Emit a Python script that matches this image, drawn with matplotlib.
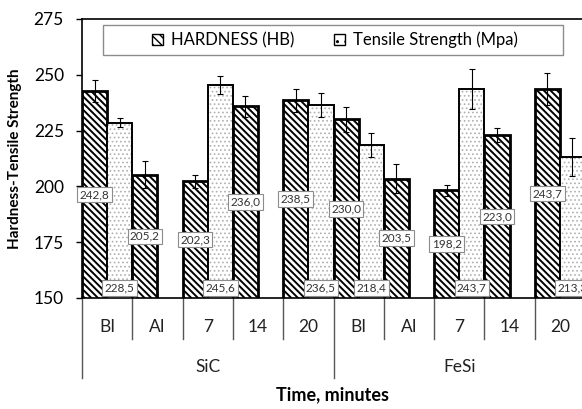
import numpy as np
import matplotlib.pyplot as plt
from matplotlib.patches import Patch, Rectangle

plt.rcParams['font.family'] = ['Lato', 'DejaVu Sans']

times = ["BI", "AI", "7", "14", "20", "BI", "AI", "7", "14", "20"]
groups = ["SiC", "FeSi"]

hardness = [242.8, 205.2, 202.3, 236.0, 238.5, 230.0, 203.5, 198.2, 223.0, 243.7]
hardness_err = [5.0, 6.0, 3.0, 4.7, 5.0, 5.5, 6.5, 2.5, 3.0, 7.3]
tensile = [228.5, np.nan, 245.6, np.nan, 236.5, 218.4, np.nan, 243.7, np.nan, 213.3]
tensile_err = [2.0, np.nan, 4.0, np.nan, 5.5, 5.4, np.nan, 9.0, np.nan, 8.5]

ymin = 150
fig = plt.figure(figsize=(5.82, 4.09), dpi=100)
ax = fig.add_axes([82 / 582, (409 - 298) / 409, 503 / 582, 279 / 409])

n = len(times)
idx = np.arange(n)
xh = idx + 0.25
xt = idx + 0.75

# hardness bars (dense diagonal hatch)
plt.rcParams['hatch.linewidth'] = 1.4
ax.bar(xh, hardness, width=0.5, color="white", edgecolor="black", hatch="\\\\\\\\\\",
       linewidth=2.0, zorder=2)
# tensile bars: light grey dots then black outline
plt.rcParams['hatch.linewidth'] = 0.7
ax.bar(xt, tensile, width=0.5, color="white", edgecolor="#b0b0b0", hatch="....",
       linewidth=0, zorder=2)
ax.bar(xt, tensile, width=0.5, color="none", edgecolor="black", linewidth=1.4, zorder=3)

ax.errorbar(xh, hardness, yerr=hardness_err, fmt="none", ecolor="black",
            elinewidth=0.8, capsize=2, capthick=0.8, zorder=4)
ax.errorbar(xt, tensile, yerr=tensile_err, fmt="none", ecolor="black",
            elinewidth=0.8, capsize=2, capthick=0.8, zorder=4)

box = dict(boxstyle="square,pad=0.2", fc="white", ec="#8c8c8c", lw=0.8)
for x, v in zip(xh, hardness):
    ax.text(x, (ymin + v) / 2, f"{v:.1f}".replace(".", ","), ha="center", va="center",
            fontsize=8.5, color="#333333", bbox=box, zorder=5)
for x, v in zip(xt, tensile):
    if np.isnan(v):
        continue
    ax.text(x, ymin + 4.5, f"{v:.1f}".replace(".", ","), ha="center", va="center",
            fontsize=8.5, color="#333333", bbox=box, zorder=5, clip_on=False)

ax.set_xlim(0, n)
ax.set_ylim(ymin, 275)
ax.set_yticks([150, 175, 200, 225, 250, 275])
ax.tick_params(axis="y", labelsize=12.5, length=4, width=1, pad=9, direction="out")
ax.set_xticks([])
for s in ["left", "top", "bottom", "right"]:
    ax.spines[s].set_linewidth(1.2)
    ax.spines[s].set_color("black")

# category axis with group separators
tr = ax.get_xaxis_transform()
for i in range(n + 1):
    low = -0.287 if i % 5 == 0 else -0.147
    ax.plot([i, i], [0, low], transform=tr, color="#555555", lw=1, clip_on=False)
for i, t in enumerate(times):
    ax.text(i + 0.5, -0.104, t, transform=tr, ha="center", va="center", fontsize=12.5,
            color="#222222")
for g, name in enumerate(groups):
    ax.text(g * 5 + 2.5, -0.247, name, transform=tr, ha="center", va="center",
            fontsize=12.5, color="#222222")

fig.text(333 / 582, 1 - 395 / 409, "Time, minutes", ha="center", va="center",
         fontsize=13, fontweight="bold")
ax.set_ylabel("Hardness-Tensile Strength", fontsize=11, fontweight="bold")
ax.yaxis.set_label_coords(-0.119, 0.5)

# legend box
ax.add_patch(Rectangle((0.0417, 0.871), 0.914, 0.107, transform=ax.transAxes,
                       fc="white", ec="#8c8c8c", lw=1, zorder=6))
plt.rcParams['hatch.linewidth'] = 1.0
handles = [Patch(fc="white", ec="black", hatch="\\\\\\\\", lw=1, label="HARDNESS (HB)"),
           Patch(fc="white", ec="black", hatch="..", lw=1, label="Tensile Strength (Mpa)")]
leg = ax.legend(handles=handles, loc="center", bbox_to_anchor=(0.503, 0.925), ncol=2,
                frameon=False, fontsize=12, handlelength=0.65, handleheight=0.65,
                handletextpad=0.5, columnspacing=2.4)
leg.set_zorder(7)

fig.savefig("out.png", dpi=100)
